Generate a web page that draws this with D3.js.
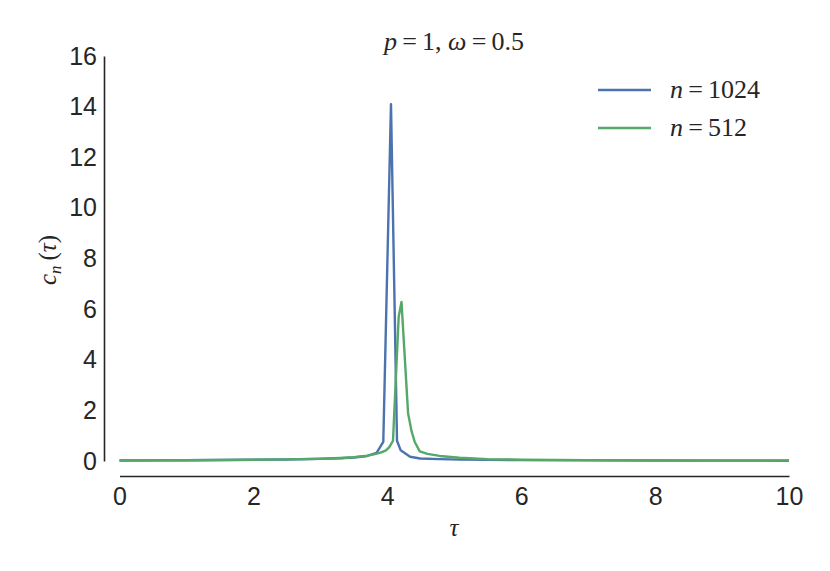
<!DOCTYPE html>
<html><head><meta charset="utf-8">
<script src="https://cdn.jsdelivr.net/npm/d3@7/dist/d3.min.js"></script>
<style>body{margin:0;background:#fff}svg{display:block}</style>
</head><body>
<svg id="c" width="830" height="571"></svg>
<script>
const tauBlue = [0,1,2,2.5,3,3.3,3.5,3.7,3.84,3.94,4.055,4.145,4.2,4.34,4.49,4.78,5.1,5.5,6,7,8,9,10];
const blue    = [0.02,0.03,0.05,0.06,0.085,0.11,0.14,0.2,0.32,0.76,14.1,0.8,0.42,0.17,0.1,0.075,0.055,0.045,0.035,0.025,0.02,0.015,0.012];
const tauGreen = [0,0.5,1,1.5,2,2.5,3,3.3,3.5,3.7,3.8,3.9,3.98,4.03,4.085,4.17,4.212,4.31,4.36,4.41,4.485,4.6,4.78,5.08,5.5,6,7,8,9,10];
const green    = [0.02,0.025,0.03,0.04,0.05,0.065,0.09,0.12,0.15,0.21,0.26,0.33,0.42,0.55,0.8,5.7,6.28,1.9,1.2,0.75,0.38,0.28,0.2,0.13,0.07,0.05,0.035,0.025,0.02,0.018];
const xTicks = [0,2,4,6,8,10];
const yTicks = [0,2,4,6,8,10,12,14,16];
const seriesNames = ["1024","512"];
const colors = ["#4C72B0","#55A868"];

const svg = d3.select("#c");
const x = d3.scaleLinear().domain([0,10]).range([119.5,789]);
const y = d3.scaleLinear().domain([0,16]).range([461,56]);
const axisCol = "#262626";
const font = "'Liberation Sans', Arial, sans-serif";

// x axis (offset spine)
const gx = svg.append("g").attr("transform","translate(0,476)")
  .call(d3.axisBottom(x).tickValues(xTicks).tickSize(0).tickPadding(11).tickFormat(d3.format("d")));
gx.select(".domain").attr("stroke",axisCol).attr("stroke-width",1.6);
gx.selectAll("text").attr("font-family",font).attr("font-size",25).attr("fill",axisCol);

// y axis
const gy = svg.append("g").attr("transform","translate(104,0)")
  .call(d3.axisLeft(y).tickValues(yTicks).tickSize(0).tickPadding(7).tickFormat(d3.format("d")));
gy.select(".domain").attr("stroke",axisCol).attr("stroke-width",1.6);
gy.selectAll("text").attr("font-family",font).attr("font-size",25).attr("fill",axisCol);

const line = d3.line().x(d=>x(d[0])).y(d=>y(d[1]));
const dataB = tauBlue.map((t,i)=>[t,blue[i]]);
const dataG = tauGreen.map((t,i)=>[t,green[i]]);
svg.append("path").datum(dataB).attr("d",line).attr("fill","none").attr("stroke",colors[0]).attr("stroke-width",2.4).attr("stroke-linejoin","round");
svg.append("path").datum(dataG).attr("d",line).attr("fill","none").attr("stroke",colors[1]).attr("stroke-width",2.4).attr("stroke-linejoin","round");

const serif = "'Liberation Serif','DejaVu Serif',serif";
// title
const title = svg.append("text").attr("x",454).attr("y",50).attr("text-anchor","middle")
  .attr("font-family",serif).attr("font-size",26).attr("fill",axisCol);
title.append("tspan").attr("font-style","italic").text("p");
title.append("tspan").text("\u2009=\u20091, ");
title.append("tspan").attr("font-style","italic").text("ω");
title.append("tspan").text("\u2009=\u20090.5");

// x label
svg.append("text").attr("x",454).attr("y",536).attr("text-anchor","middle")
  .attr("font-family",serif).attr("font-style","italic").attr("font-size",25).attr("fill",axisCol).text("τ");

// y label
const yl = svg.append("text").attr("transform","translate(56,260) rotate(-90)").attr("text-anchor","middle")
  .attr("font-family",serif).attr("font-size",25).attr("fill",axisCol);
yl.append("tspan").attr("font-style","italic").text("c");
yl.append("tspan").attr("font-style","italic").attr("font-size",17).attr("dy",5).text("n");
yl.append("tspan").attr("dy",-5).text("\u2009(");
yl.append("tspan").attr("font-style","italic").text("τ");
yl.append("tspan").text(")");

// legend
seriesNames.forEach((nm,i)=>{
  const ly = 90 + i*38;
  svg.append("line").attr("x1",598).attr("x2",651).attr("y1",ly).attr("y2",ly)
    .attr("stroke",colors[i]).attr("stroke-width",2.4);
  const t = svg.append("text").attr("x",670).attr("y",ly+8).attr("font-family",serif)
    .attr("font-size",26).attr("fill",axisCol);
  t.append("tspan").attr("font-style","italic").text("n");
  t.append("tspan").text("\u2009=\u2009"+nm);
});
</script>
</body></html>
